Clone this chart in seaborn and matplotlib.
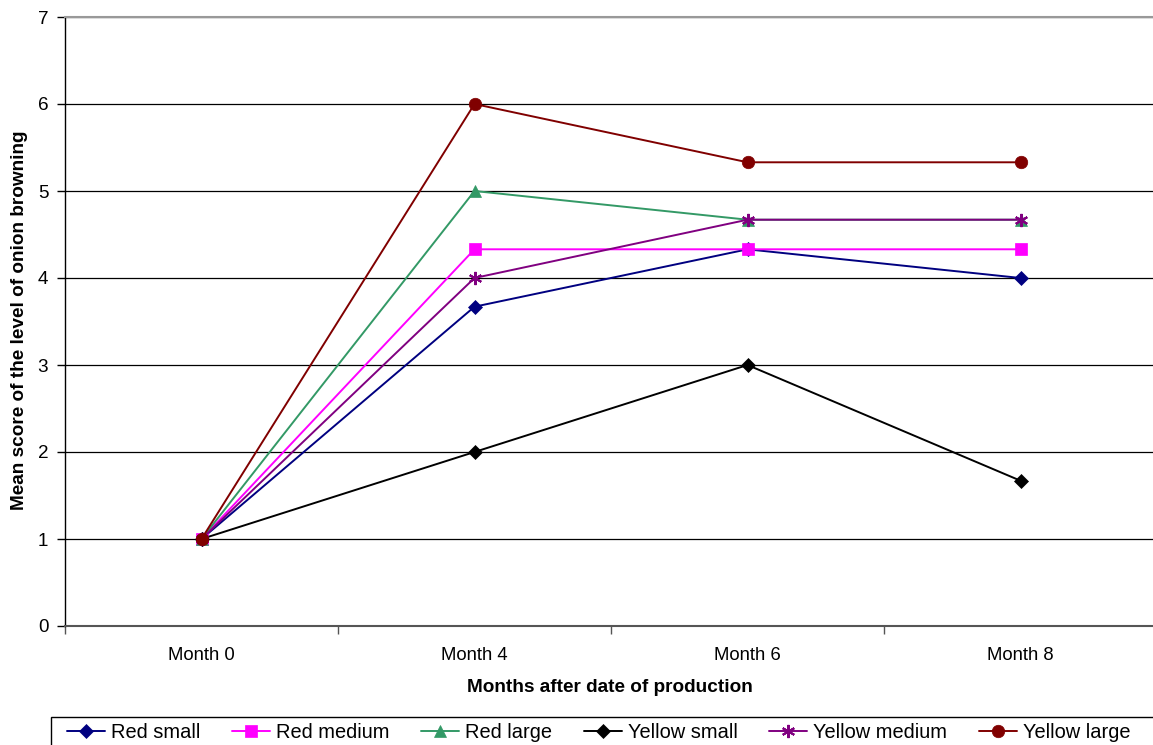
import matplotlib
matplotlib.use("Agg")
import matplotlib.pyplot as plt
from matplotlib.patches import Rectangle
import seaborn as sns
import numpy as np
import pandas as pd

categories = ["Month 0", "Month 4", "Month 6", "Month 8"]
red_small = [1.0, 3.67, 4.33, 4.0]
red_medium = [1.0, 4.33, 4.33, 4.33]
red_large = [1.0, 5.0, 4.67, 4.67]
yellow_small = [1.0, 2.0, 3.0, 1.67]
yellow_medium = [1.0, 4.0, 4.67, 4.67]
yellow_large = [1.0, 6.0, 5.33, 5.33]

series_names = ["Red small", "Red medium", "Red large", "Yellow small", "Yellow medium", "Yellow large"]
series_values = [red_small, red_medium, red_large, yellow_small, yellow_medium, yellow_large]
colors = ["#000080", "#FF00FF", "#339966", "#000000", "#800080", "#800000"]
markers = ["D", "s", "^", "D", (6, 2, 0), "o"]
msizes = [7.5, 8, 8.5, 7.5, 9.5, 9]

sns.set_style("white")
plt.rcParams["font.family"] = ["Liberation Sans", "DejaVu Sans"]
plt.rcParams["text.color"] = "black"
plt.rcParams["xtick.color"] = "black"
plt.rcParams["ytick.color"] = "black"
plt.rcParams["axes.labelcolor"] = "black"

fig = plt.figure(figsize=(11.53, 7.45), dpi=100)
ax = fig.add_axes([65 / 1153, 1 - 626 / 745, (1157 - 65) / 1153, (626 - 17) / 745])

pos = np.arange(len(categories))
for name, vals, c, m, ms in zip(series_names, series_values, colors, markers, msizes):
    df = pd.DataFrame({"x": pos, "y": vals})
    sns.lineplot(data=df, x="x", y="y", ax=ax, color=c, marker=m, markersize=ms,
                 markeredgecolor=c, markerfacecolor=c,
                 markeredgewidth=1.5 if m == (6, 2, 0) else 0.5,
                 linewidth=1.4, label=name, legend=False)

ax.set_xlim(-0.5, 3.5)
ax.set_ylim(0, 7)
ax.set_yticks(range(0, 8))
ax.set_xticks(pos)
ax.set_xticklabels(categories)
ax.set_xticks(np.arange(-0.5, 3.6, 1.0), minor=True)
ax.tick_params(axis="x", which="major", length=0, pad=15, labelsize=13.3, labelcolor="black")
ax.tick_params(axis="x", which="minor", length=6, width=1, color="#555555", direction="out", bottom=True)
ax.tick_params(axis="y", length=6, width=1, color="#000000", direction="out", left=True,
               labelsize=13.6, pad=6, labelcolor="black")
ax.yaxis.grid(True, color="#000000", linewidth=0.9)
ax.xaxis.grid(False)
ax.set_axisbelow(True)
ax.spines["right"].set_visible(False)
ax.spines["top"].set_color("#999999")
ax.spines["top"].set_linewidth(1.5)
ax.spines["left"].set_color("#000000")
ax.spines["left"].set_linewidth(1.0)
ax.spines["bottom"].set_color("#555555")
ax.spines["bottom"].set_linewidth(1.5)
ax.set_xlabel("")
ax.set_ylabel("")

fig.text(610 / 1153, 1 - 687 / 745, "Months after date of production", ha="center", va="center",
         fontsize=13.7, fontweight="bold", color="black")
fig.text(19.5 / 1153, 1 - 320 / 745, "Mean score of the level of onion browning", ha="center", va="center",
         rotation=90, fontsize=13.7, fontweight="bold", color="black")

# legend frame (extends past the figure edge as in the reference)
fig.patches.append(Rectangle((50.5 / 1153, -0.05), 1.2, 0.05 + 1 - 716.5 / 745,
                             transform=fig.transFigure, fill=False, edgecolor="black",
                             linewidth=1.0, clip_on=False))

handles, labels = ax.get_legend_handles_labels()
leg = fig.legend(handles, labels, loc="upper left", bbox_to_anchor=(67 / 1153, 1 - 723 / 745),
                 ncol=6, frameon=False, fontsize=14.4,
                 handlelength=1.9, handletextpad=0.3, columnspacing=1.58, borderpad=0,
                 borderaxespad=0)

fig.savefig("out.png", dpi=100)
